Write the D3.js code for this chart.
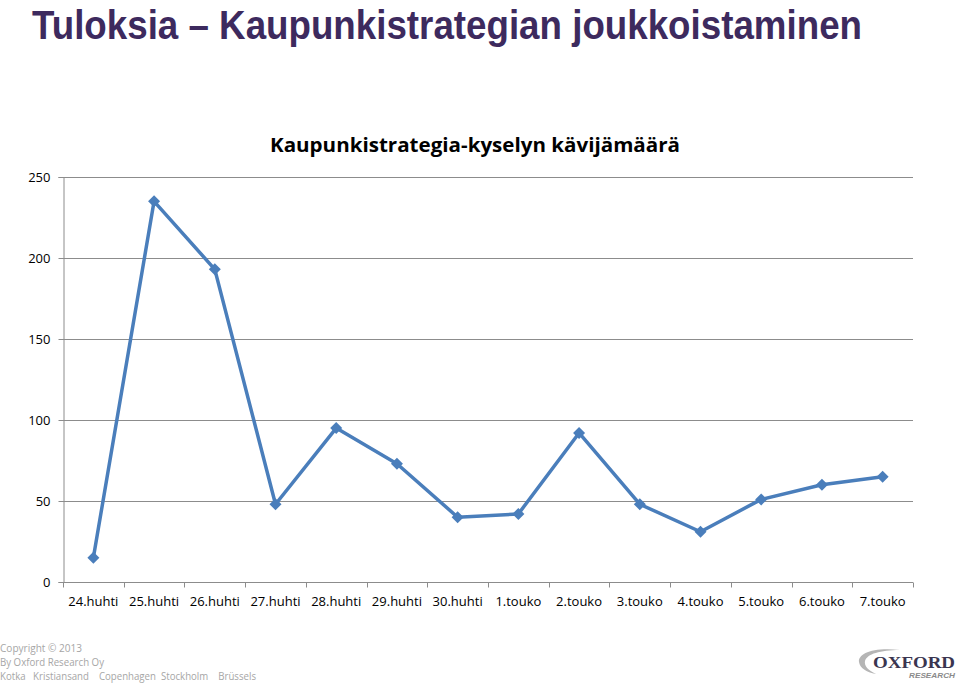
<!DOCTYPE html>
<html><head><meta charset="utf-8">
<script src="https://cdn.jsdelivr.net/npm/d3@7"></script>
<style>body{margin:0;background:#fff}svg{display:block}</style>
</head><body><svg id="c" width="960" height="684"></svg>
<script>
const categories = ["24.huhti","25.huhti","26.huhti","27.huhti","28.huhti","29.huhti","30.huhti","1.touko","2.touko","3.touko","4.touko","5.touko","6.touko","7.touko"];
const visitors = [15,235,193,48,95,73,40,42,92,48,31,51,60,65];
const yTicks = [0,50,100,150,200,250];
const footerLines = ["Copyright © 2013","By Oxford Research Oy","Kotka   Kristiansand    Copenhagen  Stockholm    Brüssels"];
const footerWidths = [82,104,256];

const svg = d3.select("#c");
const m = {l:63, r:913, t:177, b:582};
const x = d3.scaleBand().domain(categories).range([m.l, m.r]);
const y = d3.scaleLinear().domain([0,250]).range([m.b, m.t]);

// slide title
svg.append("text").attr("x",32).attr("y",39)
  .attr("font-family","'Liberation Sans Narrow','Arial Narrow',sans-serif")
  .attr("font-weight","bold").attr("font-size",41).attr("fill","#3d2a5e")
  .attr("textLength",830).attr("lengthAdjust","spacingAndGlyphs")
  .text("Tuloksia – Kaupunkistrategian joukkoistaminen");

// chart title
svg.append("text").attr("x",475).attr("y",152).attr("text-anchor","middle")
  .attr("font-family","'Open Sans',sans-serif").attr("font-weight","bold").attr("font-size",19.5)
  .attr("fill","#000").attr("textLength",410).attr("lengthAdjust","spacingAndGlyphs")
  .text("Kaupunkistrategia-kyselyn kävijämäärä");

// gridlines
svg.append("g").selectAll("line").data(yTicks.filter(d=>d>0)).join("line")
  .attr("x1",m.l).attr("x2",m.r).attr("y1",d=>y(d)+0.5).attr("y2",d=>y(d)+0.5)
  .attr("stroke","#8c8c8c").attr("stroke-width",1);

// y axis
const yAxis = svg.append("g").attr("transform",`translate(${m.l+0.5},0)`)
  .call(d3.axisLeft(y).tickValues(yTicks).tickSize(5).tickPadding(8));
yAxis.select(".domain").attr("stroke","#8c8c8c");
yAxis.selectAll(".tick line").attr("stroke","#8c8c8c");
yAxis.selectAll("text").attr("font-family","'Open Sans',sans-serif").attr("font-size",13).attr("fill","#000");

// x axis
const xg = svg.append("g").attr("transform",`translate(0,${m.b+0.5})`);
xg.append("line").attr("x1",m.l).attr("x2",m.r).attr("stroke","#8c8c8c");
const bounds = categories.map(c=>x(c)).concat([m.r]);
xg.selectAll(".tk").data(bounds).join("line").attr("class","tk")
  .attr("x1",d=>Math.round(d)+0.5).attr("x2",d=>Math.round(d)+0.5).attr("y1",0).attr("y2",5)
  .attr("stroke","#8c8c8c");
xg.selectAll("text").data(categories).join("text")
  .attr("x",d=>x(d)+x.bandwidth()/2).attr("y",23).attr("text-anchor","middle")
  .attr("font-family","'Open Sans',sans-serif").attr("font-size",13).attr("fill","#000")
  .text(d=>d);

// line
const pts = categories.map((c,i)=>[x(c)+x.bandwidth()/2, y(visitors[i])]);
svg.append("path").datum(pts).attr("d",d3.line())
  .attr("fill","none").attr("stroke","#4a7ebb").attr("stroke-width",3.5).attr("stroke-linejoin","round");
svg.append("g").selectAll("path").data(pts).join("path")
  .attr("transform",d=>`translate(${d[0]},${d[1]})`)
  .attr("d","M0,-6L6,0L0,6L-6,0Z")
  .attr("fill","#4a7ebb");

// footer
svg.append("g").selectAll("text").data(footerLines).join("text")
  .attr("x",0).attr("y",(d,i)=>652+i*14)
  .attr("font-family","'Open Sans',sans-serif").attr("font-size",10.5).attr("fill","#a6a6a6")
  .attr("textLength",(d,i)=>footerWidths[i]).attr("lengthAdjust","spacingAndGlyphs")
  .style("white-space","pre")
  .text(d=>d);

// logo
const lg = svg.append("g");
lg.append("path").attr("d","M900,650 C872,647 858,654 859,662 C860,668 866,672 876,674 C868,670 864,666 865,661 C867,654 880,650 900,650Z")
  .attr("fill","#b5b5b5");
lg.append("text").attr("x",955).attr("y",668).attr("text-anchor","end")
  .attr("font-family","'Liberation Serif',serif").attr("font-weight","bold").attr("font-size",17)
  .attr("fill","#3a3550").attr("textLength",82).attr("lengthAdjust","spacingAndGlyphs").text("OXFORD");
lg.append("text").attr("x",955).attr("y",678).attr("text-anchor","end")
  .attr("font-family","'Liberation Sans',sans-serif").attr("font-style","italic").attr("font-weight","bold").attr("font-size",8)
  .attr("fill","#8a8a8a").attr("textLength",46).attr("lengthAdjust","spacingAndGlyphs").text("RESEARCH");
</script></body></html>
